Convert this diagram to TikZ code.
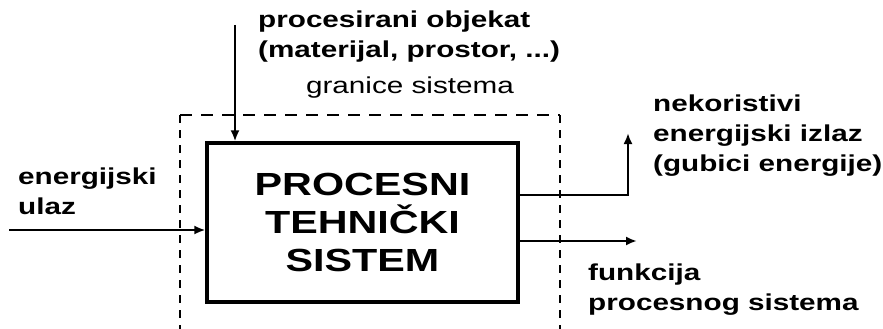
\documentclass[tikz,border=0pt]{standalone}
\usepackage{fontspec}
\setmainfont{Liberation Sans}[FakeStretch=1.29]
\usetikzlibrary{arrows.meta, positioning, calc}
\newcommand\lblsize{\fontsize{23}{30}\selectfont}
\newcommand\boxsize{\fontsize{32}{38}\selectfont}
\tikzset{
  sysbox/.style={draw, line width=3.2pt, minimum width=311pt, minimum height=159pt,
    align=center, font=\boxsize\bfseries, inner sep=0pt},
  lbl/.style={align=left, font=\lblsize\bfseries, inner sep=0pt, anchor=west},
  plainlbl/.style={font=\lblsize, inner sep=0pt},
  flow/.style={-{Latex[length=11pt, width=9pt]}, line width=2.3pt},
  hbound/.style={line width=2.6pt, dash pattern=on 12pt off 9pt},
  vbound/.style={line width=2.8pt, dash pattern=on 8pt off 7pt},
}
\begin{document}
\begin{tikzpicture}[x=1pt, y=-1pt]
    \useasboundingbox (0,0) rectangle (883,329);
    \node[sysbox] (sys) at (362.5,222.5) {PROCESNI\\TEHNIČKI\\SISTEM};
    % system boundary, open at the bottom
    \coordinate (bl) at (180,115);
    \coordinate (br) at (560,115);
    \draw[hbound] (bl) -- (br);
    \draw[vbound] (bl) -- (180,329);
    \draw[vbound] (br) -- (560,329);
    \node[plainlbl] (bound) at (410,88) {granice sistema};
    % inputs
    \coordinate (objin) at (235,25);
    \coordinate (enin) at (9,230);
    \node[lbl] (objlbl) at (258,37) {procesirani objekat\\(materijal, prostor, ...)};
    \node[lbl] (enlbl) at (18,191) {energijski\\ulaz};
    \draw[flow] (objin) -- (objin |- sys.north);
    \draw[flow] (enin) -- (enin -| sys.west);
    % outputs
    \coordinate (lossend) at (628,133);
    \coordinate (funcend) at (637,241);
    \node[lbl] (losslbl) at (653,136) {nekoristivi\\energijski izlaz\\(gubici energije)};
    \node[lbl] (funclbl) at (588,290) {funkcija\\procesnog sistema};
    \draw[flow] ([yshift=27.5pt]sys.east) -| (lossend);
    \draw[flow] ([yshift=-18.5pt]sys.east) -- (funcend);
  \end{tikzpicture}
\end{document}
